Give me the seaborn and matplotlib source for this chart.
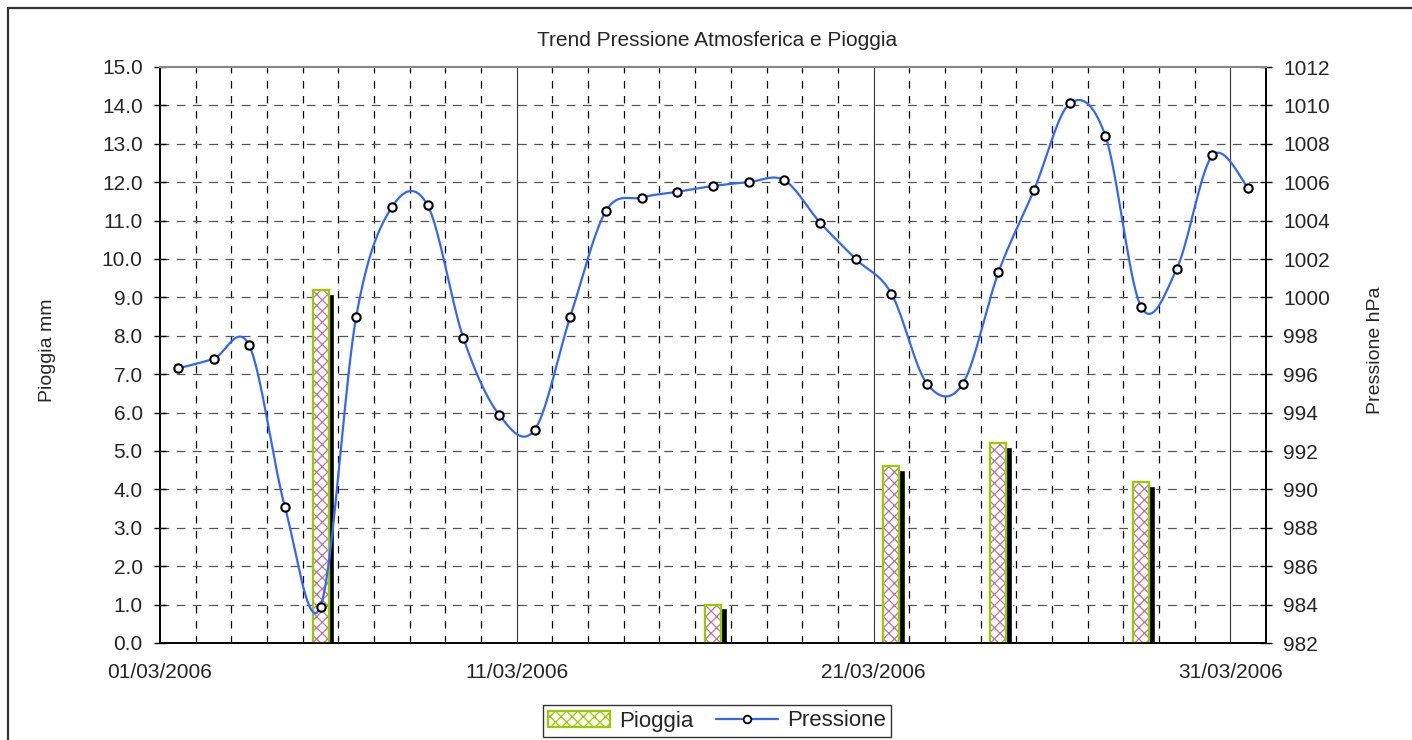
import numpy as np
import pandas as pd
import matplotlib
matplotlib.use("Agg")
import matplotlib.pyplot as plt
import matplotlib.dates as mdates
from matplotlib.lines import Line2D
from matplotlib.patches import Patch
import seaborn as sns

# ---- data -------------------------------------------------------------
dates = pd.date_range("2006-03-01", periods=31, freq="D")
pressione = [996.3, 996.8, 997.5, 989.1, 983.9, 999.0, 1004.7, 1004.8, 997.9, 993.9,
             993.1, 999.0, 1004.5, 1005.2, 1005.5, 1005.8, 1006.0, 1006.1, 1003.9, 1002.0,
             1000.2, 995.5, 995.5, 1001.3, 1005.6, 1010.1, 1008.4, 999.5, 1001.5, 1007.4,
             1005.7]
pioggia = [0, 0, 0, 0, 9.2, 0, 0, 0, 0, 0,
           0, 0, 0, 0, 0, 1.0, 0, 0, 0, 0,
           4.6, 0, 0, 5.2, 0, 0, 0, 4.2, 0, 0,
           0]
tick_dates = ["2006-03-01", "2006-03-11", "2006-03-21", "2006-03-31"]

sns.set_style("white")
plt.rcParams["font.family"] = ["Liberation Sans", "DejaVu Sans"]
plt.rcParams["hatch.linewidth"] = 0.9

df = pd.DataFrame({"data": dates, "pioggia": pioggia, "pressione": pressione})
df["x"] = mdates.date2num(df["data"]) + 0.5   # centre of each day


def smooth(x, y, n=20):
    # Catmull-Rom style bezier, like a spreadsheet "smoothed line"
    x = np.asarray(x, float)
    y = np.asarray(y, float)
    P = np.column_stack([x, y])
    P = np.vstack([P[0], P, P[-1]])
    out = []
    t = np.linspace(0, 1, n)[:, None]
    for i in range(1, len(P) - 2):
        b0 = P[i]
        b1 = P[i] + (P[i + 1] - P[i - 1]) / 6
        b2 = P[i + 1] - (P[i + 2] - P[i]) / 6
        b3 = P[i + 1]
        seg = ((1 - t) ** 3) * b0 + 3 * ((1 - t) ** 2) * t * b1 + 3 * (1 - t) * t ** 2 * b2 + t ** 3 * b3
        out.append(seg if i == 1 else seg[1:])
    out = np.vstack(out)
    return out[:, 0], out[:, 1]


fig = plt.figure(figsize=(14.12, 7.40), dpi=100)
ax = fig.add_axes([160 / 1412, 1 - 643 / 740, (1266 - 160) / 1412, (643 - 67) / 740])
ax2 = ax.twinx()

x0 = mdates.date2num(dates[0])
x1 = x0 + 31
ax.set_xlim(x0, x1)
ax.set_ylim(0, 15)
ax2.set_ylim(982, 1012)

# grid
for k in range(1, 31):
    if k % 10 == 0:
        ax.axvline(x0 + k, color="#333333", lw=0.8, zorder=0)
    else:
        ax.axvline(x0 + k, color="black", lw=0.9, ls=(0, (6, 6)), zorder=0)
for v in range(1, 15):
    ax.axhline(v, color="#555555", lw=0.9, ls=(0, (7, 6)), zorder=0)

# rain bars with shadow
bw = 0.45
dx = 0.16
rain = df[df["pioggia"] > 0]
ax.bar(rain["x"] + dx, rain["pioggia"] - 0.1, width=bw, color="black", zorder=2)
ax.bar(rain["x"], rain["pioggia"], width=bw, color="white", edgecolor="#C070A8",
       hatch="xxx", linewidth=0, zorder=3)
ax.bar(rain["x"], rain["pioggia"], width=bw, fill=False, edgecolor="#99CC00",
       linewidth=1.7, zorder=4)

# pressure line
sx, sy = smooth(df["x"], df["pressione"])
ax2.plot(sx, sy, color="#3366FF", lw=1.6, zorder=5)
sns.scatterplot(data=df, x="x", y="pressione", ax=ax2, s=36, color="white",
                edgecolor="black", linewidth=1.5, zorder=6, legend=False)

# axes styling
ax.set_yticks(np.arange(0, 15.1, 1.0))
ax.set_yticklabels([f"{v:.1f}" for v in np.arange(0, 15.1, 1.0)])
ax2.set_yticks(np.arange(982, 1013, 2))
ax.set_xticks(mdates.date2num(pd.to_datetime(tick_dates)))
ax.set_xticklabels([pd.Timestamp(d).strftime("%d/%m/%Y") for d in tick_dates])
ax.set_xlabel("")
ax.set_ylabel("")
ax2.set_xlabel("")
ax2.set_ylabel("")

for a in (ax, ax2):
    a.tick_params(axis="both", labelsize=15, direction="inout", length=9, width=1,
                  color="black", pad=8)
    a.spines["top"].set_color("#888888")
    a.spines["top"].set_linewidth(1.5)
    for s in ("left", "right", "bottom"):
        a.spines[s].set_color("black")
        a.spines[s].set_linewidth(1.2)
ax.tick_params(axis="x", pad=10)
ax2.set_zorder(ax.get_zorder() + 1)
ax2.patch.set_visible(False)

fig.text(717 / 1412, 1 - 40 / 740, "Trend Pressione Atmosferica e Pioggia",
         ha="center", va="center", fontsize=15)
fig.text(48 / 1412, 1 - 350 / 740, "Pioggia mm", rotation=90, ha="center", va="center", fontsize=14)
fig.text(1375 / 1412, 1 - 350 / 740, "Pressione hPa", rotation=90, ha="center", va="center", fontsize=14)

# chart-area frame
fig.add_artist(Line2D([8 / 1412, 1], [1 - 8 / 740, 1 - 8 / 740], color="#333333", lw=1.6))
fig.add_artist(Line2D([8 / 1412, 8 / 1412], [0, 1 - 8 / 740], color="#333333", lw=1.6))

handles = [
    Patch(facecolor="white", edgecolor="#99CC00", hatch="xxx", linewidth=1.6, label="Pioggia"),
    Line2D([0], [0], color="#3366FF", lw=1.6, marker="o", markersize=5.5,
           markerfacecolor="white", markeredgecolor="black", markeredgewidth=1.3, label="Pressione"),
]
leg = fig.legend(handles=handles, loc="center", bbox_to_anchor=(717 / 1412, 1 - 721 / 740),
                 ncol=2, frameon=True, fontsize=16, fancybox=False, handlelength=2.8,
                 handletextpad=0.4, columnspacing=1.0, borderpad=0.25)
leg.get_frame().set_edgecolor("black")
leg.get_frame().set_linewidth(1.0)

fig.savefig("out.png", dpi=100)
